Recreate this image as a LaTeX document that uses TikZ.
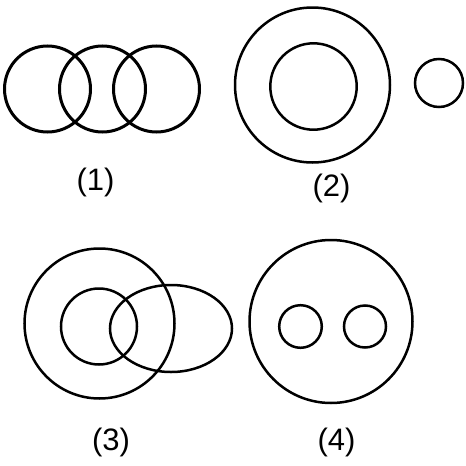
\documentclass[tikz,border=0pt]{standalone}
\usepackage{fontspec}
\setmainfont{Liberation Sans}
\begin{document}
\begin{tikzpicture}[x=1pt,y=-1pt,
  ring/.style={draw=black,line width=2.5pt},
  thick ring/.style={draw=black,line width=3pt},
  lbl/.style={font=\fontsize{31}{33}\selectfont,inner sep=0pt}]
\useasboundingbox[fill=white] (0,0) rectangle (466,466);
% panel 1
\draw[thick ring] (47.5,89) circle (43);
\draw[thick ring] (102.5,89) circle (43);
\draw[thick ring] (156.5,89) circle (43);
\node[lbl] (l1) at (95.5,182.5) {(1)};
% panel 2
\draw[ring] (312.5,85) circle (77.5);
\draw[ring] (313.5,86.5) circle (43.2);
\draw[ring] (439,83) circle (24);
\node[lbl] (l2) at (331.5,188) {(2)};
% panel 3
\draw[ring] (99.5,323.5) circle (75);
\draw[ring] (99,326.5) circle (38);
\draw[ring] (171,328.5) ellipse (61 and 43.5);
\node[lbl] (l3) at (111,442) {(3)};
% panel 4
\draw[ring] (331,321.5) circle (81.5);
\draw[ring] (300.5,326.5) circle (21.3);
\draw[ring] (365,326.5) circle (21);
\node[lbl] (l4) at (336.5,442) {(4)};
\end{tikzpicture}
\end{document}
